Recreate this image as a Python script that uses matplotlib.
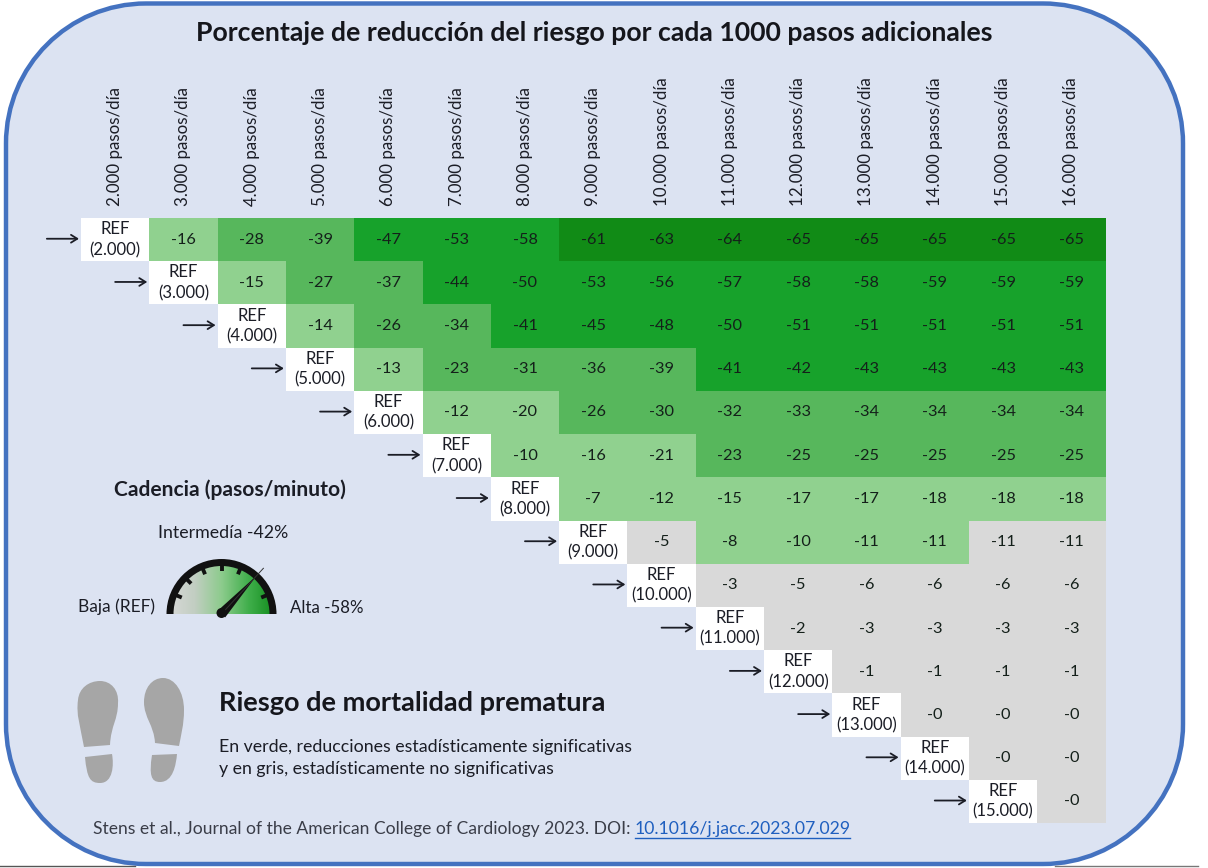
import numpy as np
import matplotlib
matplotlib.use('Agg')
import matplotlib.pyplot as plt
from matplotlib.colors import ListedColormap, LinearSegmentedColormap
from matplotlib.patches import Wedge, PathPatch, Polygon, Circle
from matplotlib.path import Path

plt.rcParams['font.family'] = ['Lato', 'DejaVu Sans']

#datos de la tabla
pasos = ['2.000', '3.000', '4.000', '5.000', '6.000', '7.000', '8.000', '9.000', '10.000',
         '11.000', '12.000', '13.000', '14.000', '15.000', '16.000']
fila_2000 = [-16, -28, -39, -47, -53, -58, -61, -63, -64, -65, -65, -65, -65, -65]
fila_3000 = [-15, -27, -37, -44, -50, -53, -56, -57, -58, -58, -59, -59, -59]
fila_4000 = [-14, -26, -34, -41, -45, -48, -50, -51, -51, -51, -51, -51]
fila_5000 = [-13, -23, -31, -36, -39, -41, -42, -43, -43, -43, -43]
fila_6000 = [-12, -20, -26, -30, -32, -33, -34, -34, -34, -34]
fila_7000 = [-10, -16, -21, -23, -25, -25, -25, -25, -25]
fila_8000 = [-7, -12, -15, -17, -17, -18, -18, -18]
fila_9000 = [-5, -8, -10, -11, -11, -11, -11]
fila_10000 = [-3, -5, -6, -6, -6, -6]
fila_11000 = [-2, -3, -3, -3, -3]
fila_12000 = [-1, -1, -1, -1]
fila_13000 = [0, 0, 0]
fila_14000 = [0, 0]
fila_15000 = [0]
filas = [fila_2000, fila_3000, fila_4000, fila_5000, fila_6000, fila_7000, fila_8000,
         fila_9000, fila_10000, fila_11000, fila_12000, fila_13000, fila_14000, fila_15000]

#celdas no significativas en la fila de 9.000 (columna), de 10.000 en adelante todo gris
no_signif_9000 = [8, 13, 14]
primera_fila_gris = 8

#colores: blanco REF, gris, verde claro, medio, fuerte, muy fuerte
colores = ['#FFFFFF', '#D9D9D9', '#90D18F', '#57B75C', '#17A22B', '#118B16']

W, H = 1208, 868
X0, Y0, X1, Y1 = 81, 218, 1105.5, 823
TINTA = '#1B1D26'

fig = plt.figure(figsize=(W / 100, H / 100), dpi=100, facecolor='white')

#fondo en pixeles
bg = fig.add_axes([0, 0, 1, 1])
bg.set_xlim(0, W)
bg.set_ylim(H, 0)
bg.axis('off')

bg.plot([0, 135], [866, 866], color='#555555', lw=1)
bg.plot([1055, 1198], [866, 866], color='#777777', lw=1)

#marco redondeado con arcos de verdad
izq, arr, der, aba, rad = 6, 3.5, 1183, 864, 140
k = rad * 0.4477
M, C, L, Z = Path.MOVETO, Path.CURVE4, Path.LINETO, Path.CLOSEPOLY
marco = [(izq + rad, arr), (der - rad, arr),
         (der - k, arr), (der, arr + k), (der, arr + rad), (der, aba - rad),
         (der, aba - k), (der - k, aba), (der - rad, aba), (izq + rad, aba),
         (izq + k, aba), (izq, aba - k), (izq, aba - rad), (izq, arr + rad),
         (izq, arr + k), (izq + k, arr), (izq + rad, arr), (izq + rad, arr)]
cod_marco = [M, L, C, C, C, L, C, C, C, L, C, C, C, L, C, C, C, Z]
bg.add_patch(PathPatch(Path(marco, cod_marco), fc='#DCE3F2', ec='#4472C0', lw=3.2))

bg.text(594, 33, 'Porcentaje de reducción del riesgo por cada 1000 pasos adicionales',
        ha='center', va='center', fontsize=19.2, fontweight='bold', color='#15161C')

#tabla
ax = fig.add_axes([X0 / W, 1 - Y1 / H, (X1 - X0) / W, (Y1 - Y0) / H])
ax.patch.set_alpha(0)
n_fil, n_col = len(filas), len(pasos)
clases = np.full((n_fil, n_col), np.nan)
for i, fila in enumerate(filas):
    clases[i, i] = 0
    for k, v in enumerate(fila):
        j = i + 1 + k
        if i >= primera_fila_gris or (i == 7 and j in no_signif_9000):
            clases[i, j] = 1
        elif v > -22:
            clases[i, j] = 2
        elif v > -40:
            clases[i, j] = 3
        elif v > -60:
            clases[i, j] = 4
        else:
            clases[i, j] = 5
        ax.text(j, i, '-%d' % abs(v), ha='center', va='center', fontsize=11.8, color='#14201A')
    ax.text(i, i, 'REF\n(%s)' % pasos[i], ha='center', va='center', fontsize=12,
            color=TINTA, linespacing=1.35)
    ax.annotate('', xy=(i - 0.53, i - 0.02), xytext=(i - 1.0, i - 0.02), annotation_clip=False,
                arrowprops=dict(arrowstyle='->,head_length=0.45,head_width=0.28', color=TINTA, lw=1.3,
                                shrinkA=0, shrinkB=0))

ax.pcolormesh(np.arange(n_col + 1) - 0.5, np.arange(n_fil + 1) - 0.5, np.ma.masked_invalid(clases),
              cmap=ListedColormap(colores), vmin=-0.5, vmax=5.5, zorder=0)
ax.set_xlim(-0.5, n_col - 0.5)
ax.set_ylim(n_fil - 0.5, -0.5)
ax.xaxis.tick_top()
ax.set_xticks(range(n_col))
ax.set_xticklabels(['%s pasos/día' % p for p in pasos], rotation=90, fontsize=12.2, color=TINTA)
ax.tick_params(axis='x', length=0, pad=9)
ax.set_yticks([])
for s in ax.spines.values():
    s.set_visible(False)

#cadencia
bg.text(230, 490, 'Cadencia (pasos/minuto)', ha='center', va='center', fontsize=15.1,
        fontweight='bold', color=TINTA)
bg.text(223, 533, 'Intermedía -42%', ha='center', va='center', fontsize=12.8, color=TINTA)
bg.text(116, 607, 'Baja (REF)', ha='center', va='center', fontsize=12.5, color=TINTA)
bg.text(327, 608, 'Alta -58%', ha='center', va='center', fontsize=12.2, color=TINTA)

#velocimetro
cx, cy, r = 221.5, 614, 55
degradado = LinearSegmentedColormap.from_list('g', ['#DADADA', '#C2CEC2', '#8CCB8C', '#3FAE4A', '#0F8A1A'])
im = bg.imshow(np.linspace(0, 1, 200).reshape(1, -1), cmap=degradado, aspect='auto',
               extent=(cx - r, cx + r, cy, cy - r), zorder=2)
im.set_clip_path(Wedge((cx, cy), r - 1, 180, 360, transform=bg.transData))
bg.set_xlim(0, W)
bg.set_ylim(H, 0)
bg.add_patch(Wedge((cx, cy), r, 180, 360, width=7, fc='#111111', ec='none', zorder=3))
for ang in [157.5, 135, 112.5, 90, 67.5, 22.5]:
    a = np.radians(ang)
    bg.plot([cx + (r - 5) * np.cos(a), cx + (r - 12) * np.cos(a)],
            [cy - (r - 5) * np.sin(a), cy - (r - 12) * np.sin(a)],
            color='#111111', lw=2.8, solid_capstyle='butt', zorder=3)
a = np.radians(47.5)
ux, uy = np.cos(a), -np.sin(a)
px, py = -uy, ux
bg.add_patch(Polygon([(cx + 5 * px, cy + 5 * py), (cx - 5 * px, cy - 5 * py),
                      (cx + 52 * ux, cy + 52 * uy)], fc='#111111', ec='none', zorder=4))
bg.plot([cx, cx + 62 * ux], [cy, cy + 62 * uy], color='#333333', lw=0.7, zorder=4)
bg.add_patch(Circle((cx, cy - 1), 5, fc='#111111', ec='none', zorder=4))

#huellas
suela_izq = [(84, 747), (80, 725), (76, 715), (78, 700), (79, 688), (89, 681), (100, 681),
             (111, 681), (119, 690), (118, 703), (118, 720), (111, 725), (110, 745), (84, 747)]
suela_der = [(155, 743), (154, 725), (144, 718), (144, 702), (144, 688), (152, 678), (163, 678),
             (175, 678), (184, 692), (184, 710), (184, 725), (181, 735), (179, 746), (155, 743)]
cod_suela = [M] + [C] * 12 + [Z]
tacon_izq = [(85, 757), (112, 754), (114, 765), (113, 783), (100, 783), (90, 783), (87, 778), (85, 757), (85, 757)]
tacon_der = [(152, 755), (177, 754), (176, 765), (173, 782), (160, 782), (151, 782), (149, 775), (152, 755), (152, 755)]
cod_tacon = [M, L] + [C] * 6 + [Z]
for pts, cod in [(suela_izq, cod_suela), (suela_der, cod_suela), (tacon_izq, cod_tacon), (tacon_der, cod_tacon)]:
    bg.add_patch(PathPatch(Path(pts, cod), fc='#A6A6A6', ec='none', zorder=2))

#textos de abajo
bg.text(219, 703, 'Riesgo de mortalidad prematura', ha='left', va='center', fontsize=19.5,
        fontweight='bold', color='#15161C')
bg.text(219, 747, 'En verde, reducciones estadísticamente significativas', ha='left', va='center',
        fontsize=12.8, color=TINTA)
bg.text(219, 769, 'y en gris, estadísticamente no significativas', ha='left', va='center',
        fontsize=12.8, color=TINTA)
bg.text(93, 829, 'Stens et al., Journal of the American College of Cardiology 2023. DOI:', ha='left',
        va='center', fontsize=12.6, color='#3A3D48')
bg.text(635, 829, '10.1016/j.jacc.2023.07.029', ha='left', va='center', fontsize=12.7, color='#1F5FBF')
bg.plot([635, 850], [837.5, 837.5], color='#1F5FBF', lw=1)

fig.savefig('out.png', dpi=100, facecolor='white')
